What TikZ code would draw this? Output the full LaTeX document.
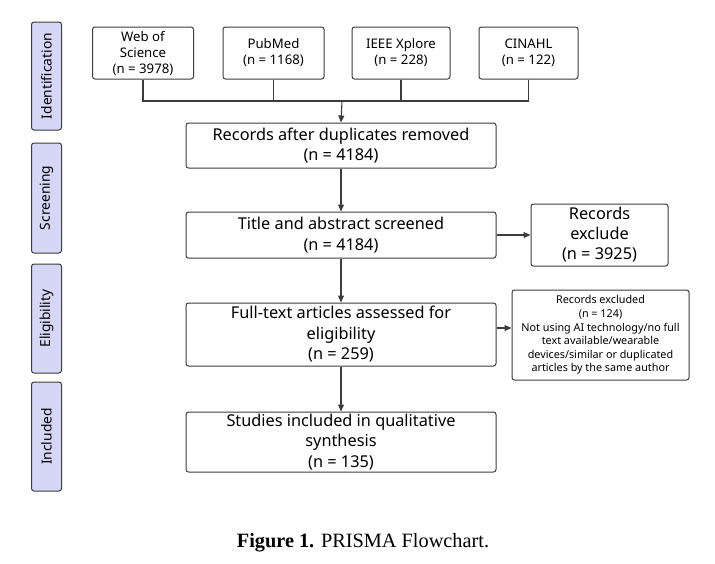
\documentclass[tikz,border=0pt]{standalone}
\usepackage{fontspec}
\setmainfont{Noto Sans}
\newfontfamily\capfont{Liberation Serif}
\usetikzlibrary{arrows.meta}
\definecolor{lineclr}{RGB}{60,60,60}
\definecolor{phasefill}{RGB}{214,214,246}
\tikzset{
  box/.style={draw=lineclr, line width=1pt, rounded corners=2.5pt, fill=white, align=center, inner sep=0pt},
  srcbox/.style={box, minimum width=101pt, minimum height=52pt, font=\fontsize{13.2}{16}\selectfont},
  mainbox/.style={box, minimum width=310pt, font=\fontsize{16.3}{20.5}\selectfont},
  phase/.style={draw=lineclr, line width=1pt, rounded corners=2.5pt, fill=phasefill, minimum height=30pt, rotate=90, inner sep=0pt, font=\fontsize{13.8}{16}\selectfont},
  conn/.style={draw=lineclr, line width=1.1pt},
  arr/.style={conn, -{Triangle[length=7pt,width=6pt]}}
}
\begin{document}
\begin{tikzpicture}[x=1pt,y=-1pt]
\useasboundingbox (0,0) rectangle (715,563);
% phase labels
\node[phase, minimum width=108pt] (pid) at (46.5,76) {Identification};
\node[phase, minimum width=110pt] (pscr) at (46.5,198) {Screening};
\node[phase, minimum width=109pt] (pelg) at (46.5,318.5) {Eligibility};
\node[phase, minimum width=109pt] (pinc) at (46.5,436.5) {Included};
% sources
\node[srcbox] (wos) at (143,53) {Web of\\Science\\(n = 3978)};
\node[srcbox] (pub) at (273.5,53) {PubMed\\(n = 1168)};
\node[srcbox, minimum width=98pt] (ieee) at (401,53) {IEEE Xplore\\(n = 228)};
\node[srcbox, minimum width=99pt] (cin) at (528.5,53) {CINAHL\\(n = 122)};
\coordinate (hl) at (342,101);
% main flow
\node[mainbox, minimum height=45pt] (dup) at (341,145.5) {Records after duplicates removed\\(n = 4184)};
\node[mainbox, minimum height=46pt] (tas) at (341,235) {Title and abstract screened\\(n = 4184)};
\node[mainbox, minimum height=63pt] (ft) at (341,334.5) {Full-text articles assessed for\\eligibility\\(n = 259)};
\node[mainbox, minimum height=60pt] (inc) at (341,442) {Studies included in qualitative\\synthesis\\(n = 135)};
% exclusions
\node[box, minimum width=137pt, minimum height=62pt, font=\fontsize{16.3}{20}\selectfont] (ex1) at (599.5,235) {Records\\exclude\\(n = 3925)};
\node[box, minimum width=177pt, minimum height=90pt, font=\fontsize{10.8}{13.6}\selectfont] (ex2) at (600.5,335) {Records excluded\\(n = 124)\\Not using AI technology/no full\\text available/wearable\\devices/similar or duplicated\\articles by the same author};
% connectors
\draw[conn] (wos.south) |- (hl);
\draw[conn] (pub.south) |- (hl);
\draw[conn] (ieee.south) |- (hl);
\draw[conn] (cin.south) |- (hl);
\draw[arr] (hl) -- (dup.north);
\draw[arr] (dup.south) -- (tas.north);
\draw[arr] (tas.south) -- (ft.north);
\draw[arr] (ft.south) -- (inc.north);
\draw[arr] (tas.east) -- (ex1.west);
\draw[arr] (ft.east |- 0,328) -- (ex2.west |- 0,328);
% caption
\node[font=\capfont\fontsize{20.3}{22}\selectfont] (cap) at (363,543) {\textbf{Figure 1.} PRISMA Flowchart.};
\end{tikzpicture}
\end{document}
